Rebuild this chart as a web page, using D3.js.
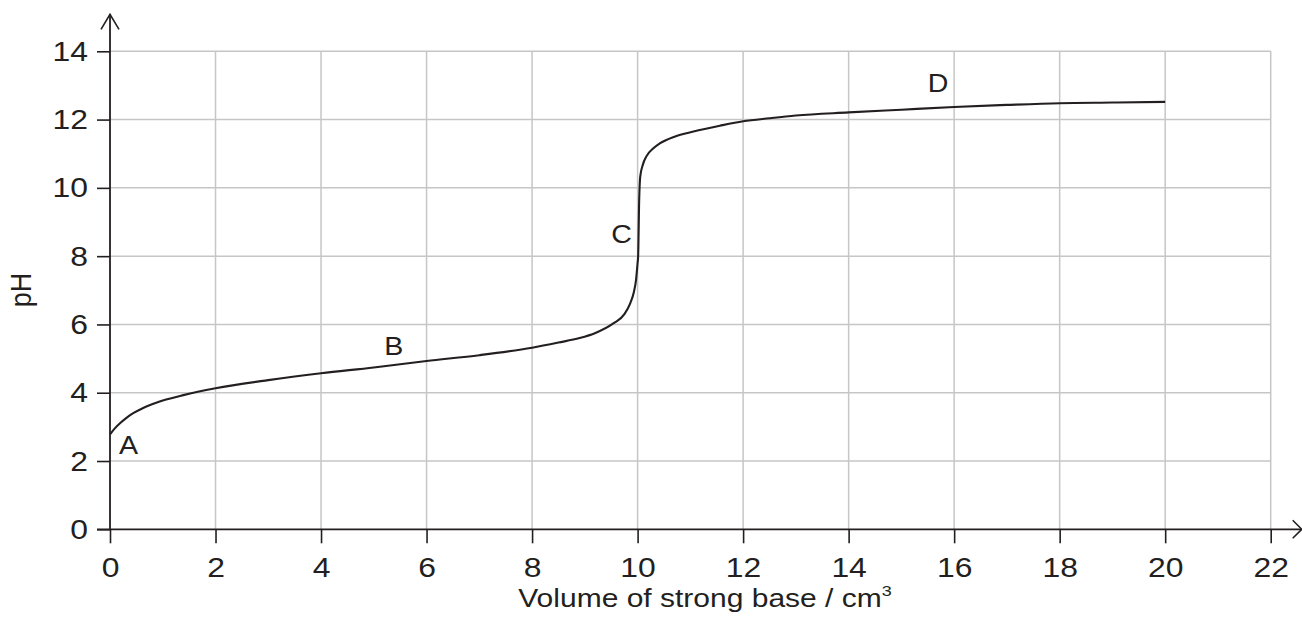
<!DOCTYPE html>
<html>
<head>
<meta charset="utf-8">
<script src="https://cdn.jsdelivr.net/npm/d3@7"></script>
<style>
  html, body { margin: 0; padding: 0; background: #fff; }
  svg { display: block; font-family: "Liberation Sans", Arial, sans-serif; }
</style>
</head>
<body>
<svg id="chart" width="1302" height="628"></svg>
<script>
// ---- data ----
const volume = [0, 0.1, 0.2, 0.3, 0.44, 0.6, 0.76, 1.0, 1.39, 2.0, 3.0, 4.0, 5.0, 6.0, 7.0, 8.0, 8.5, 8.9, 9.2, 9.54, 9.75, 9.86, 9.93, 9.97, 10.0, 10.01, 10.03, 10.05, 10.1, 10.17, 10.3, 10.42, 10.7, 11.06, 11.56, 12, 12.5, 13, 14, 15, 16, 17, 18, 19, 20];
const pH     = [2.78, 2.97, 3.12, 3.25, 3.40, 3.53, 3.64, 3.77, 3.93, 4.13, 4.37, 4.57, 4.74, 4.93, 5.1, 5.32, 5.47, 5.6, 5.75, 6.03, 6.3, 6.62, 6.95, 7.3, 7.8, 7.98, 9.64, 10.33, 10.68, 10.93, 11.16, 11.3, 11.5, 11.65, 11.82, 11.95, 12.04, 12.12, 12.21, 12.29, 12.37, 12.43, 12.48, 12.5, 12.52];
const xTicks = [0, 2, 4, 6, 8, 10, 12, 14, 16, 18, 20, 22];
const yTicks = [0, 2, 4, 6, 8, 10, 12, 14];
const pointLabels = ["A", "B", "C", "D"];
const pointLabelX = [0.17, 5.2, 9.5, 15.5];
const pointLabelY = [2.2, 5.1, 8.4, 12.8];
const xTitle = "Volume of strong base / cm";
const xTitleSup = "3";
const yTitle = "pH";

// ---- layout ----
const svg = d3.select("#chart");
const ink = "#231f20";
const gridCol = "#c6c6c6";
const stretch = 1.12;
const x = d3.scaleLinear().domain([0, 22]).range([110, 1270.7]);
const y = d3.scaleLinear().domain([0, 14]).range([529.3, 51.3]);

// grid
svg.append("g").selectAll("line").data(xTicks.filter(d => d > 0)).join("line")
  .attr("x1", d => x(d)).attr("x2", d => x(d))
  .attr("y1", y(0)).attr("y2", y(14))
  .attr("stroke", gridCol).attr("stroke-width", 1.5);
svg.append("g").selectAll("line").data(yTicks.filter(d => d > 0)).join("line")
  .attr("x1", x(0)).attr("x2", x(22))
  .attr("y1", d => y(d)).attr("y2", d => y(d))
  .attr("stroke", gridCol).attr("stroke-width", 1.5);

// axes
const xAxis = d3.axisBottom(x).tickValues(xTicks).tickSize(14).tickSizeOuter(0).tickPadding(13).tickFormat(d3.format("d"));
const gx = svg.append("g").attr("transform", `translate(0,${y(0)})`).call(xAxis);
gx.select(".domain").remove();
gx.selectAll(".tick line").attr("stroke", ink).attr("stroke-width", 1.6);
gx.selectAll(".tick text").attr("fill", ink).attr("font-size", 28.5)
  .attr("font-family", "Liberation Sans, Arial, sans-serif")
  .attr("transform", `scale(${stretch},1)`);

const yAxis = d3.axisLeft(y).tickValues(yTicks).tickSize(13).tickSizeOuter(0).tickPadding(9).tickFormat(d3.format("d"));
const gy = svg.append("g").attr("transform", `translate(${x(0)},0)`).call(yAxis);
gy.select(".domain").remove();
gy.selectAll(".tick line").attr("stroke", ink).attr("stroke-width", 1.6);
gy.selectAll(".tick text").attr("fill", ink).attr("font-size", 28.5)
  .attr("font-family", "Liberation Sans, Arial, sans-serif")
  .attr("x", -22 / stretch)
  .attr("transform", `scale(${stretch},1)`);

// axis lines with arrows
svg.append("line").attr("x1", x(0)).attr("x2", x(0)).attr("y1", y(0)).attr("y2", y(14) - 37)
  .attr("stroke", ink).attr("stroke-width", 1.8);
svg.append("polyline")
  .attr("points", `${x(0)-9},${y(14)-22} ${x(0)},${y(14)-37} ${x(0)+9},${y(14)-22}`)
  .attr("fill", "none").attr("stroke", ink).attr("stroke-width", 1.6);
svg.append("line").attr("x1", x(0) - 13).attr("x2", x(22) + 31).attr("y1", y(0)).attr("y2", y(0))
  .attr("stroke", ink).attr("stroke-width", 1.8);
svg.append("polyline")
  .attr("points", `${x(22)+22},${y(0)-9} ${x(22)+31},${y(0)} ${x(22)+22},${y(0)+9}`)
  .attr("fill", "none").attr("stroke", ink).attr("stroke-width", 1.6);

// curve
const pts = volume.map((v, i) => [v, pH[i]]);
const line = d3.line().x(d => x(d[0])).y(d => y(d[1])).curve(d3.curveMonotoneX);
svg.append("path").datum(pts).attr("d", line)
  .attr("fill", "none").attr("stroke", ink).attr("stroke-width", 2.1);

// point labels
svg.append("g").selectAll("g").data(pointLabels).join("g")
  .attr("transform", (d, i) => `translate(${x(pointLabelX[i])},${y(pointLabelY[i])}) scale(1.1,1)`)
  .append("text")
  .attr("fill", ink).attr("font-size", 26)
  .text(d => d);

// titles
const tg = svg.append("g").attr("transform", `translate(705,607) scale(1.2,1)`);
const t = tg.append("text").attr("text-anchor", "middle")
  .attr("fill", ink).attr("font-size", 25);
t.append("tspan").text(xTitle);
t.append("tspan").attr("font-size", 15).attr("dy", -11).text(xTitleSup);

svg.append("text").attr("transform", "translate(31,290) rotate(-90) scale(1,1.1)")
  .attr("text-anchor", "middle").attr("fill", ink).attr("font-size", 27).text(yTitle);
</script>
</body>
</html>
